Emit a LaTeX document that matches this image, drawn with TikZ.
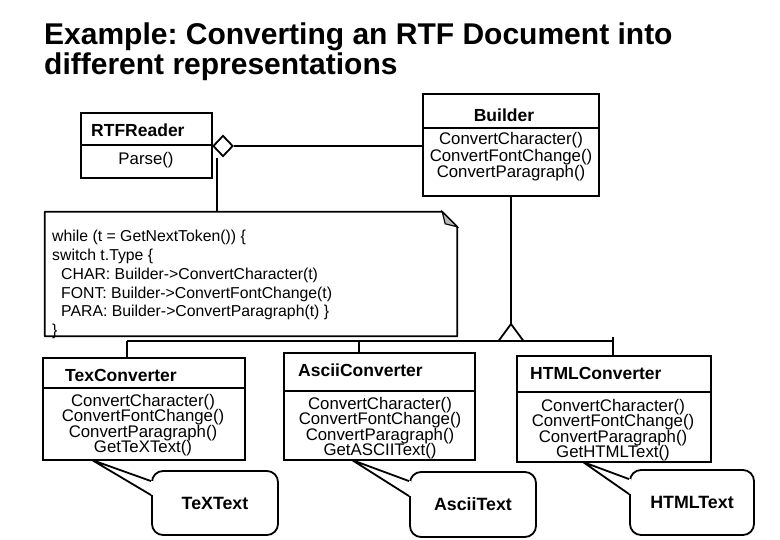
\documentclass[tikz,border=0pt]{standalone}
\usepackage{fontspec}
\setmainfont{Liberation Sans}
\usetikzlibrary{shapes.geometric}
\frenchspacing
\newcommand\tightlines{\lineskiplimit=-10pt\relax}
\tikzset{
  box/.style={draw, line width=1.8pt, inner sep=0pt},
  link/.style={line width=1.8pt, line join=round},
  clsname/.style={font=\fontsize{17.5}{19}\selectfont\bfseries, inner sep=0pt},
  methods/.style={font={\fontsize{16.8}{15.4}\selectfont\tightlines}, align=center, inner sep=0pt},
  memotext/.style={font=\fontsize{15.8}{18.8}\selectfont, align=left, inner sep=0pt},
  bubble/.style={draw, line width=1.8pt, rounded corners=11pt, inner sep=0pt, font=\fontsize{17.8}{19}\selectfont\bfseries},
  headline/.style={font=\fontsize{30}{30}\selectfont\bfseries, inner sep=0pt, anchor=base west}
}
\begin{document}
\begin{tikzpicture}[x=1pt,y=-1pt]
\useasboundingbox (0,0) rectangle (780,540);

\node[headline] (titleA) at (44,45) {Example: Converting an RTF Document into};
\node[headline] (titleB) at (44,75) {different representations};

\node[box, minimum width=131pt, minimum height=65pt] (reader) at (146.5,145.5) {};
\node[clsname, anchor=west] (readername) at (91,130) {RTFReader};
\node[methods] (readerops) at (146,160) {Parse()};
\draw[link] (reader.west |- 0,145) -- (reader.east |- 0,145);

\node[box, minimum width=176pt, minimum height=102pt] (builder) at (511,145) {};
\node[clsname] (buildername) at (504,115) {Builder};
\node[methods, font=\fontsize{16.8}{16.5}\selectfont] (builderops) at (511,157) {ConvertCharacter()\\ConvertFontChange()\\ConvertParagraph()};
\draw[link] (builder.west |- 0,128) -- (builder.east |- 0,128);

\node[diamond, draw, line width=1.8pt, fill=white, inner sep=0pt, minimum width=20pt, minimum height=21pt] (agg) at (223,146) {};
\draw[link] (agg.east) -- (agg.east -| builder.west);

\node[minimum width=412pt, minimum height=124pt, inner sep=0pt] (memo) at (251,274) {};
\draw[link] (memo.north west) -- ([xshift=-15pt]memo.north east) -- ([yshift=-15pt]memo.north east)
  -- (memo.south east) -- (memo.south west) -- cycle;
\draw[line width=1.2pt, fill=gray!55] ([xshift=-15pt]memo.north east) -- ([xshift=-12pt,yshift=-12pt]memo.north east)
  -- ([yshift=-15pt]memo.north east) -- cycle;
\node[memotext, anchor=north west] (memolines) at (52,230) {while (t = GetNextToken()) \{\\
switch t.Type \{\\
\hspace*{9pt}CHAR: Builder->ConvertCharacter(t)\\
\hspace*{9pt}FONT: Builder->ConvertFontChange(t)\\
\hspace*{9pt}PARA: Builder->ConvertParagraph(t) \}\\
\}};
\coordinate (parsetap) at (217,158);
\draw[link] (parsetap) -- (parsetap |- memo.north);

\node[box, minimum width=202pt, minimum height=102pt] (texconv) at (144,409) {};
\node[clsname, anchor=west] (texname) at (65,375) {TexConverter};
\node[methods] (texops) at (143,425) {ConvertCharacter()\\ConvertFontChange()\\ConvertParagraph()\\GetTeXText()};
\draw[link] (texconv.west |- 0,388) -- (texconv.east |- 0,388);

\node[box, minimum width=191pt, minimum height=107pt] (asciiconv) at (379.5,406.5) {};
\node[clsname, anchor=west] (asciiname) at (298,370) {AsciiConverter};
\node[methods] (asciiops) at (380,428) {ConvertCharacter()\\ConvertFontChange()\\ConvertParagraph()\\GetASCIIText()};
\draw[link] (asciiconv.west |- 0,391) -- (asciiconv.east |- 0,391);

\node[box, minimum width=194pt, minimum height=106pt] (htmlconv) at (614,409) {};
\node[clsname, anchor=west] (htmlname) at (530,373) {HTMLConverter};
\node[methods] (htmlops) at (613,430) {ConvertCharacter()\\ConvertFontChange()\\ConvertParagraph()\\GetHTMLText()};
\draw[link] (htmlconv.west |- 0,392) -- (htmlconv.east |- 0,392);

\coordinate (genTip) at (511,324);
\coordinate (busL) at (127,341);
\coordinate (busR) at (613,341);
\coordinate (asciiTap) at (359,341);
\draw[link] (builder.south) -- (genTip);
\draw[link] (busL) -- (busR);
\draw[link, fill=white] (genTip) -- ++(-12.5,17) -- ++(25,0) -- cycle;
\draw[link] (busL) -- (busL |- texconv.north);
\draw[link] (asciiTap) -- (asciiTap |- asciiconv.north);
\draw[link] ([yshift=4pt]busR) -- (busR |- htmlconv.north);

\node[bubble, minimum width=126pt, minimum height=64pt] (textex) at (215,503) {TeXText};
\coordinate (texptr) at (92,460);
\fill[white] ([xshift=-1pt,yshift=-11pt]textex.north west) rectangle ([xshift=1.5pt,yshift=-25pt]textex.north west);
\draw[link] ([yshift=-11pt]textex.north west) -- (texptr) -- ([yshift=-25pt]textex.north west);

\node[bubble, minimum width=126pt, minimum height=65pt] (asciitext) at (473,504.5) {AsciiText};
\coordinate (asciiptr) at (352,460);
\fill[white] ([xshift=-1pt,yshift=-10pt]asciitext.north west) rectangle ([xshift=1.5pt,yshift=-25pt]asciitext.north west);
\draw[link] ([yshift=-10pt]asciitext.north west) -- (asciiptr) -- ([yshift=-25pt]asciitext.north west);

\node[bubble, minimum width=124pt, minimum height=65pt] (htmltext) at (692,502.5) {HTMLText};
\coordinate (htmlptr) at (583,462);
\fill[white] ([xshift=-1pt,yshift=-10pt]htmltext.north west) rectangle ([xshift=1.5pt,yshift=-25pt]htmltext.north west);
\draw[link] ([yshift=-10pt]htmltext.north west) -- (htmlptr) -- ([yshift=-25pt]htmltext.north west);

\end{tikzpicture}
\end{document}
